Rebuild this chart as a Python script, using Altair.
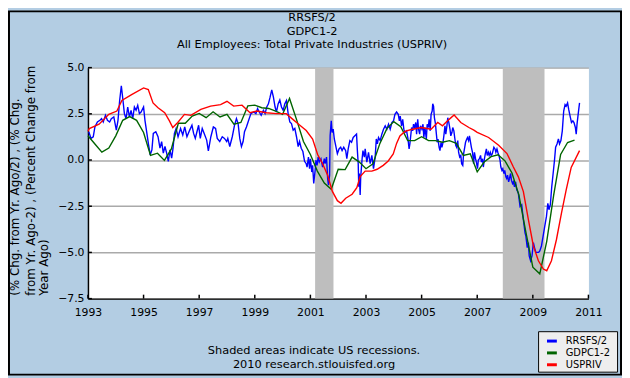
import altair as alt
import pandas as pd

FONT = "DejaVu Sans"

series_names = ["RRSFS/2", "GDPC1-2", "USPRIV"]
series_colors = ["#0000FF", "#006400", "#FF0000"]

blue_t = [1993.03,1993.11,1993.19,1993.25,1993.34,1993.43,1993.49,1993.55,1993.63,1993.70,1993.78,1993.84,1993.93,
1994.02,1994.08,1994.14,1994.20,1994.26,1994.31,1994.37,1994.43,1994.49,1994.55,1994.61,1994.67,1994.73,1994.79,1994.85,1994.91,
1995.00,1995.05,1995.12,1995.18,1995.24,1995.30,1995.35,1995.44,1995.52,1995.59,1995.65,1995.71,1995.77,1995.83,1995.89,1995.95,
1996.01,1996.06,1996.11,1996.17,1996.24,1996.33,1996.41,1996.48,1996.56,1996.66,1996.74,1996.80,1996.86,1996.92,1996.98,
1997.04,1997.11,1997.18,1997.27,1997.33,1997.42,1997.51,1997.59,1997.65,1997.74,1997.83,1997.91,1997.99,
1998.03,1998.10,1998.19,1998.27,1998.34,1998.40,1998.46,1998.52,1998.58,1998.63,1998.70,1998.78,1998.86,1998.96,
1999.04,1999.10,1999.16,1999.23,1999.31,1999.37,1999.43,1999.49,1999.55,1999.61,1999.67,1999.73,1999.78,1999.84,1999.90,1999.96,
2000.02,2000.08,2000.14,2000.20,2000.26,2000.32,2000.38,2000.44,2000.50,2000.56,2000.61,2000.67,2000.73,2000.79,2000.85,2000.88,2000.93,2000.97,
2001.00,2001.05,2001.08,2001.12,2001.17,2001.20,2001.24,2001.28,2001.32,2001.38,2001.44,2001.50,2001.53,2001.58,2001.62,2001.65,2001.69,2001.71,2001.75,2001.78,2001.82,2001.86,2001.91,2001.97,
2002.03,2002.09,2002.14,2002.20,2002.27,2002.31,2002.36,2002.42,2002.48,2002.54,2002.60,2002.66,2002.69,2002.72,2002.74,2002.76,2002.79,2002.81,2002.86,2002.89,2002.94,2002.97,
2003.03,2003.09,2003.15,2003.21,2003.27,2003.33,2003.37,2003.41,2003.45,2003.51,2003.57,2003.63,2003.69,2003.75,2003.81,2003.87,2003.93,2003.99,
2004.04,2004.10,2004.16,2004.20,2004.23,2004.28,2004.32,2004.36,2004.40,2004.46,2004.51,2004.55,2004.58,2004.64,2004.68,2004.71,2004.75,2004.79,2004.82,2004.86,2004.89,2004.93,2004.96,
2005.01,2005.05,2005.08,2005.12,2005.17,2005.20,2005.24,2005.27,2005.31,2005.34,2005.38,2005.40,2005.43,2005.46,2005.50,2005.52,2005.56,2005.59,2005.63,2005.66,2005.70,2005.73,2005.77,2005.80,2005.84,2005.87,2005.91,2005.94,2005.98,
2006.02,2006.05,2006.09,2006.12,2006.16,2006.19,2006.23,2006.26,2006.30,2006.33,2006.37,2006.41,2006.44,2006.48,2006.51,2006.55,2006.58,2006.62,2006.65,2006.69,2006.72,2006.76,2006.79,2006.83,2006.87,2006.90,2006.94,2006.97,
2007.01,2007.04,2007.08,2007.12,2007.15,2007.19,2007.22,2007.26,2007.29,2007.33,2007.36,2007.40,2007.43,2007.47,2007.50,2007.54,2007.57,2007.60,2007.64,2007.67,2007.71,2007.74,2007.78,2007.82,2007.85,2007.89,2007.92,2007.96,2007.99,
2008.03,2008.06,2008.09,2008.13,2008.16,2008.20,2008.23,2008.27,2008.30,2008.34,2008.38,2008.42,2008.48,2008.54,2008.60,2008.66,2008.72,2008.75,2008.80,2008.84,2008.87,2008.92,2008.97,
2009.02,2009.06,2009.11,2009.16,2009.21,2009.25,2009.31,2009.37,2009.43,2009.49,2009.54,2009.58,2009.63,2009.68,2009.73,2009.78,2009.82,2009.87,2009.92,2009.96,
2010.01,2010.06,2010.11,2010.16,2010.20,2010.25,2010.29,2010.34,2010.39,2010.44,2010.48,2010.53,2010.56,2010.59,2010.63,2010.68]

blue_v = [1.53,1.17,1.26,1.79,2.06,2.15,2.24,2.06,2.42,2.15,2.06,2.24,2.33,
1.62,2.15,3.22,4.02,3.22,2.51,2.24,2.87,2.33,2.69,2.24,2.87,2.69,2.96,2.51,2.60,
2.87,2.15,1.44,0.82,0.28,0.55,1.44,1.53,1.26,0.64,1.00,0.37,0.73,0.37,-0.07,0.55,
0.10,0.64,1.44,1.71,1.26,1.71,1.35,1.79,1.26,1.62,1.88,1.44,1.17,1.53,1.88,
1.17,1.71,1.44,1.08,0.50,1.26,1.79,1.71,1.17,1.00,1.26,1.17,1.00,
1.17,0.73,1.26,1.88,2.24,1.97,1.17,0.73,1.00,1.53,1.79,2.15,2.51,2.60,
2.51,2.78,2.60,2.42,2.69,2.51,2.87,3.04,3.40,3.80,3.40,2.87,2.60,3.04,3.25,2.87,
2.69,3.04,3.22,2.51,2.06,1.97,1.62,1.71,1.26,0.73,1.00,0.64,0.46,-0.07,-0.20,-0.38,0.16,-0.47,
0.07,-0.65,-0.29,-1.27,-0.56,0.00,-0.29,0.16,-0.11,0.07,-0.38,0.07,-0.20,0.16,-1.00,-1.36,-0.82,1.31,2.12,1.49,1.67,1.14,0.78,0.34,
0.60,0.69,0.51,0.69,0.51,0.07,0.60,1.05,0.96,1.22,1.31,1.40,0.51,-0.20,-1.45,-0.73,-1.89,-0.91,0.07,0.51,0.16,0.60,
-0.11,0.42,-0.20,0.25,-0.47,0.16,1.14,0.87,1.22,1.05,1.40,1.67,1.85,1.67,1.94,1.67,2.03,2.12,
2.47,2.60,2.47,2.12,2.38,1.85,2.20,1.67,1.49,1.58,1.14,0.60,0.90,1.76,1.58,1.94,1.76,2.03,1.40,2.20,1.67,1.40,1.85,
1.67,1.94,1.22,1.76,1.13,1.94,1.76,2.20,1.58,2.47,2.65,3.04,2.92,2.29,1.94,1.58,0.96,1.13,0.69,0.51,0.96,0.69,0.96,1.31,1.85,1.40,1.85,2.29,2.03,
1.67,1.31,1.49,1.76,1.58,1.22,0.78,0.69,1.05,0.42,0.16,0.25,-0.20,-0.29,0.33,0.69,0.96,1.13,1.22,1.05,1.31,0.96,0.69,0.42,-0.20,0.42,0.07,-0.11,
-0.47,0.00,0.07,0.25,-0.11,0.07,-0.38,0.07,0.33,0.60,0.25,0.42,0.25,0.42,0.25,0.33,0.51,0.69,0.60,0.42,0.60,0.42,0.25,0.00,-0.38,-0.56,-0.47,-0.73,-0.56,
-0.91,-1.00,-0.82,-1.18,-1.00,-0.73,-1.09,-1.27,-1.18,-1.45,-1.18,-1.60,-1.80,-2.51,-2.42,-3.23,-3.94,-4.12,-4.74,-4.47,-5.19,-5.45,-5.19,
-4.47,-4.74,-5.00,-5.00,-5.00,-4.92,-4.65,-4.12,-3.58,-3.05,-2.34,-2.69,-2.42,-1.45,-0.73,0.00,0.69,0.87,1.14,0.87,
1.05,1.58,2.65,3.00,2.92,3.09,2.74,2.38,2.03,2.12,2.03,1.76,1.40,1.94,2.47,3.09]

green_t = [1993.0,1993.25,1993.5,1993.75,1994.0,1994.25,1994.5,1994.75,1995.0,1995.25,1995.5,1995.75,
1996.0,1996.25,1996.5,1996.75,1997.0,1997.25,1997.5,1997.75,1998.0,1998.25,1998.5,1998.75,
1999.0,1999.25,1999.5,1999.75,2000.0,2000.25,2000.5,2000.75,2001.0,2001.25,2001.5,2001.75,
2002.0,2002.25,2002.5,2002.75,2003.0,2003.25,2003.5,2003.75,2004.0,2004.25,2004.5,2004.75,
2005.0,2005.25,2005.5,2005.75,2006.0,2006.25,2006.5,2006.75,2007.0,2007.25,2007.5,2007.75,
2008.0,2008.25,2008.5,2008.75,2009.0,2009.25,2009.5,2009.75,2010.0,2010.25,2010.5]
green_v = [1.31,0.87,0.43,0.65,1.31,2.15,2.35,2.15,1.49,0.25,0.37,-0.02,
0.60,1.99,1.99,2.38,2.52,2.29,2.61,2.33,2.47,1.94,2.03,2.93,
2.97,2.83,2.79,2.65,2.47,3.33,2.20,1.00,0.30,-0.60,-1.25,-1.58,
-0.50,-0.52,0.16,-0.10,-0.47,-0.20,0.90,1.70,2.08,1.80,1.05,1.05,
1.26,1.05,1.05,0.96,1.05,0.90,0.25,0.34,-0.64,-0.11,0.18,0.28,
-0.05,-0.70,-1.90,-3.90,-5.80,-6.16,-4.40,-1.90,0.30,0.95,1.08]

red_t = [1993.00,1993.05,1993.40,1993.75,1994.04,1994.22,1994.57,1995.00,1995.17,1995.34,1995.52,1995.76,1995.93,
1996.05,1996.23,1996.47,1996.70,1997.06,1997.41,1997.77,1998.00,1998.24,1998.54,1998.83,1999.07,1999.42,1999.78,
2000.13,2000.37,2000.61,2000.85,2001.08,2001.26,2001.44,2001.62,2001.79,2001.97,2002.10,2002.27,2002.50,2002.67,2002.79,2002.97,
2003.21,2003.40,2003.62,2003.80,2003.98,2004.10,2004.22,2004.40,2004.63,2004.99,2005.34,2005.58,2005.75,2005.99,
2006.17,2006.41,2006.70,2006.88,2007.00,2007.41,2007.77,2008.07,2008.30,2008.48,2008.66,2008.84,2009.02,2009.20,2009.38,2009.50,
2009.67,2009.85,2010.03,2010.20,2010.38,2010.68]
red_v = [1.55,1.70,1.94,2.47,2.65,3.22,3.54,3.90,3.81,3.09,2.83,2.56,2.12,
1.76,2.03,2.47,2.42,2.74,2.92,3.00,3.18,2.92,2.97,2.56,2.65,2.56,2.51,
2.51,2.20,1.90,1.60,1.14,0.30,-0.20,-0.82,-1.70,-2.20,-2.34,-2.07,-1.85,-1.50,-0.90,-0.60,
-0.60,-0.50,-0.29,-0.05,0.33,0.90,1.30,1.55,1.65,1.76,1.67,2.03,1.85,2.20,
2.44,2.03,1.76,1.62,1.50,1.22,0.80,0.35,-0.38,-0.91,-1.71,-3.23,-4.65,-5.45,-5.90,-5.99,
-5.45,-4.30,-2.87,-1.62,-0.40,0.51]

rec_start = [2001.17, 2007.92]
rec_end = [2001.83, 2009.42]

x_ticks = [1993, 1995, 1997, 1999, 2001, 2003, 2005, 2007, 2009, 2011]
y_ticks = [-7.5, -5.0, -2.5, 0.0, 2.5, 5.0]

title_lines = ["RRSFS/2", "GDPC1-2", "All Employees: Total Private Industries (USPRIV)"]
ytitle_lines = ["(% Chg. from Yr. Ago/2) , (% Chg.", "from Yr. Ago-2) , (Percent Change from", "Year Ago)"]
footer_lines = ["Shaded areas indicate US recessions.", "2010 research.stlouisfed.org"]

W, H = 507, 234

rows = []
for name, ts, vs in [(series_names[0], blue_t, blue_v), (series_names[1], green_t, green_v), (series_names[2], red_t, red_v)]:
    for t, v in zip(ts, vs):
        rows.append({"t": t, "v": v, "series": name})
df = pd.DataFrame(rows)

xs = alt.Scale(domain=[1993, 2011], nice=False, zero=False)
ys = alt.Scale(domain=[-7.5, 5], nice=False, zero=False)
xaxis = alt.Axis(values=x_ticks, format="d", grid=False, ticks=False, tickSize=0, domainColor="black",
                 domainWidth=1.5, labelColor="black", labelFont=FONT, labelFontSize=11, labelPadding=8,
                 title=None, labelFlush=False)
yaxis = alt.Axis(values=y_ticks, format=".1f", grid=True, gridColor="#AAAAAA", gridWidth=1.5, ticks=False,
                 tickSize=0, domainColor="black", domainWidth=1.5, labelColor="black", labelFont=FONT,
                 labelFontSize=11, labelPadding=4, title=None)

X = alt.X("t:Q", scale=xs, axis=xaxis)
Y = alt.Y("v:Q", scale=ys, axis=yaxis)

rec = alt.Chart(pd.DataFrame({"t": rec_start, "t2": rec_end})).mark_rect(color="#BEBEBE").encode(
    x=X, x2="t2:Q")

lines = alt.Chart(df).mark_line(strokeWidth=1.4).encode(
    x=X, y=Y,
    color=alt.Color("series:N", scale=alt.Scale(domain=series_names, range=series_colors), legend=None),
    order=alt.Order("t:Q"))

ytick_layer = alt.Chart(pd.DataFrame({"v": y_ticks})).mark_rule(color="black", strokeWidth=1.5).encode(
    y=Y, x=alt.value(0), x2=alt.value(4))
xtick_layer = alt.Chart(pd.DataFrame({"t": x_ticks})).mark_rule(color="black", strokeWidth=1.5).encode(
    x=X, y=alt.value(H), y2=alt.value(H - 4))

def txt(text, x, y, size, angle=0, align="center"):
    return alt.Chart(alt.Data(values=[{}])).mark_text(
        text=text, font=FONT, fontSize=size, color="black", angle=angle, align=align, baseline="middle"
    ).encode(x=alt.value(x), y=alt.value(y))

texts = []
for i, line in enumerate(title_lines):
    texts.append(txt(line, 227, -50 + 13.5 * i, 11.5))
for i, (line, xp) in enumerate(zip(ytitle_lines, [-74, -58, -44])):
    texts.append(txt(line, xp, 231, 12, angle=270, align="left"))
for i, line in enumerate(footer_lines):
    texts.append(txt(line, 229, 287 + 14 * i, 11.5))

# legend box (manual, bottom right)
legend_layers = [
    alt.Chart(alt.Data(values=[{}])).mark_rect(fill="#EEEEEE", stroke="black", strokeWidth=1).encode(
        x=alt.value(456.5), x2=alt.value(536.5), y=alt.value(267.5), y2=alt.value(308.5))
]
for i, (name, col) in enumerate(zip(series_names, series_colors)):
    yy = 277 + 12 * i
    legend_layers.append(
        alt.Chart(alt.Data(values=[{}])).mark_rule(color=col, strokeWidth=3).encode(
            x=alt.value(465), x2=alt.value(475), y=alt.value(yy)))
    legend_layers.append(
        alt.Chart(alt.Data(values=[{}])).mark_text(
            text=name, font=FONT, fontSize=10, color="black", align="left", baseline="middle").encode(
            x=alt.value(484), y=alt.value(yy)))

border = alt.Chart(alt.Data(values=[{}])).mark_rect(fillOpacity=0, stroke="black", strokeWidth=2).encode(
    x=alt.value(-80), x2=alt.value(540), y=alt.value(-57), y2=alt.value(311))

chart = alt.layer(rec, lines, ytick_layer, xtick_layer, *texts, *legend_layers, border).properties(
    width=W, height=H,
    padding={"left": 81, "top": 58, "right": 34, "bottom": 78},
    autosize=alt.AutoSizeParams(type="none"),
).configure(background="#B3CDE3").configure_view(fill="white", stroke="transparent")

chart.save("out.html", embed_options={"renderer": "svg", "actions": False})
